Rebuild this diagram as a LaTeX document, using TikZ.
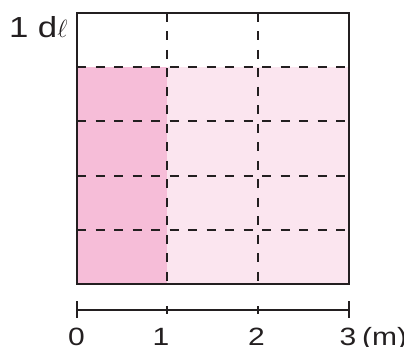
\documentclass[tikz,border=0pt]{standalone}
\usepackage{fontspec}
\setmainfont{Liberation Sans}[FakeStretch=1.2]
\usetikzlibrary{positioning}
\definecolor{deeppink}{HTML}{F6BDD8}
\definecolor{palepink}{HTML}{FBE5EF}
\definecolor{inkgray}{HTML}{231F20}

\begin{document}
\begin{tikzpicture}[x=1pt, y=-1pt, line width=1.8pt, draw=inkgray,
    gridline/.style={dash pattern=on 9pt off 9.5pt},
    numlbl/.style={font=\fontsize{25}{25}\selectfont, text=inkgray, inner sep=0pt, anchor=base}]
    \useasboundingbox (0,0) rectangle (404,347);
    % corners of the box
    \coordinate (tl) at (77,13);
    \coordinate (br) at (349,284);
    \coordinate (fill top) at (77,67);
    % coloured parts
    \fill[palepink] (fill top) rectangle (br);
    \fill[deeppink] (fill top) rectangle (167,284);
    % dashed grid
    \foreach \x in {167,258}
        \draw[gridline] (\x,13) -- (\x,284);
    \foreach \y in {67,121,176,230}
        \draw[gridline] (77,\y) -- (349,\y);
    \draw (tl) rectangle (br);
    \node[font=\fontsize{29}{29}\selectfont, text=inkgray, inner sep=0pt, anchor=base east] (unit) at (68.5,37.3) {1 d$\ell$};
    % scale
    \coordinate (s0) at (77,310);
    \coordinate (s3) at (349,310);
    \draw (s0) -- (s3);
    \draw (77,301) -- (77,318);
    \draw (349,301) -- (349,318);
    \foreach \x in {167,258}
        \draw (\x,306) -- (\x,314);
    \node[numlbl] (n0) at (76.5,345.5) {0};
    \node[numlbl] (n1) at (161,345.5) {1};
    \node[numlbl] (n2) at (256.5,345.5) {2};
    \node[numlbl] (n3) at (348,345.5) {3};
    \node[numlbl, right=4pt of n3.base east, anchor=base west] (m) {(m)};
\end{tikzpicture}
\end{document}
